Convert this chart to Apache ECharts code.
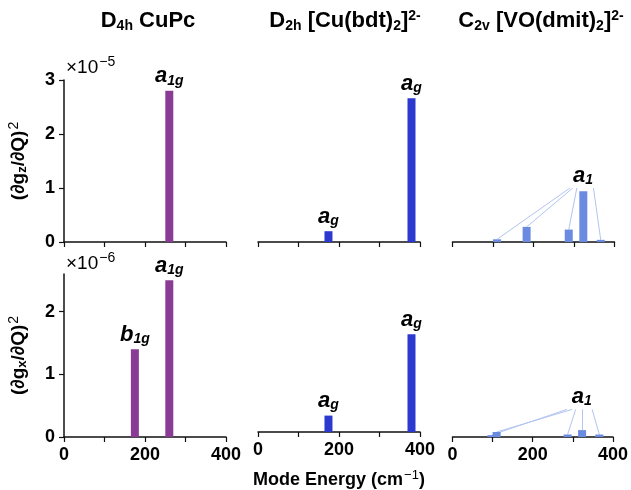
<!DOCTYPE html>
<html><head><meta charset="utf-8">
<script src="https://cdn.jsdelivr.net/npm/echarts@6/dist/echarts.min.js"></script>
<style>html,body{margin:0;padding:0;background:#fff}#c{width:631px;height:490px}</style>
</head><body><div id="c"></div>
<script>
// ---- axes / ticks ----
const energyTicks = [0, 100, 200, 300, 400];
const energyLabels = [0, 200, 400];
const gzTicks = [0, 1, 2, 3];
const gxTicks = [0, 1, 2];
const gzMax = 3;
const gxMax = 2.6;

// ---- D4h CuPc ----
const cupcEnergyZ = [260];
const cupcGz = [2.80];
const cupcLabelsZ = [['a', '1g']];
const cupcEnergyX = [175, 260];
const cupcGx = [1.40, 2.50];
const cupcLabelsX = [['b', '1g'], ['a', '1g']];

// ---- D2h [Cu(bdt)2]2- ----
const bdtEnergy = [174, 379];
const bdtGz = [0.20, 2.66];
const bdtGx = [0.27, 1.61];
const bdtLabels = [['a', 'g'], ['a', 'g']];

// ---- C2v [VO(dmit)2]2- ----
const dmitEnergyZ = [110, 183, 287, 323, 366];
const dmitGz = [0.05, 0.28, 0.23, 0.94, 0.04];
const dmitEnergyX = [97, 110, 287, 323, 366];
const dmitGx = [0.03, 0.08, 0.04, 0.11, 0.04];
const dmitGroupLabel = ['a', '1'];
const dmitLabelAnchorZ = [322, 1.0];
const dmitLabelAnchorX = [322, 0.44];
// leader lines: start point near label (data units) -> index of bar
const dmitLeaderStartZ = [[290, 1.0], [297, 1.0], [307, 1.0], [348, 1.0]];
const dmitLeaderBarZ = [0, 1, 2, 4];
const dmitLeaderStartX = [[285, 0.44], [298, 0.44], [307, 0.44], [323, 0.44], [348, 0.44]];
const dmitLeaderBarX = [0, 1, 2, 3, 4];

const PURPLE = '#8a3c95';
const BLUE = '#2c39cf';
const LIGHT = '#6b8be2';
const LEADER = '#b2c4f0';
const FONT = 'Liberation Sans';

const chart = echarts.init(document.getElementById('c'), null, {renderer: 'canvas'});

const gridLeft = [64, 258, 452.5];
const gridTop = [80, 274];
const gridH = [162, 163];
const gridW = 162;

const grids = [], xAxes = [], yAxes = [];
for (let r = 0; r < 2; r++) {
  for (let c = 0; c < 3; c++) {
    grids.push({left: gridLeft[c], top: gridTop[r], width: gridW, height: gridH[r]});
    const idx = grids.length - 1;
    xAxes.push({
      type: 'value', gridIndex: idx, min: 0, max: 400, interval: 100,
      axisLine: {show: true, onZero: false, lineStyle: {color: '#111', width: 1.5}},
      axisTick: {show: true, inside: false, length: 5, customValues: energyTicks, lineStyle: {color: '#111', width: 1.2}},
      axisLabel: {show: r === 1, customValues: energyLabels, margin: 9, color: '#000', fontFamily: FONT, fontWeight: 'bold', fontSize: 18},
      splitLine: {show: false},
      name: (r === 1 && c === 1) ? '{m|Mode Energy (cm}{p|−1}{m|)}' : '',
      nameLocation: 'middle', nameGap: 37,
      nameTextStyle: {rich: {
        m: {fontFamily: FONT, fontWeight: 'bold', fontSize: 18, color: '#000'},
        p: {fontFamily: FONT, fontWeight: 'normal', fontSize: 13, color: '#000', padding: [0, 0, 9, 1]}
      }}
    });
    const ticks = r === 0 ? gzTicks : gxTicks;
    yAxes.push({
      type: 'value', gridIndex: idx, min: 0, max: r === 0 ? gzMax : gxMax, interval: 1,
      show: c === 0,
      axisLine: {show: true, lineStyle: {color: '#111', width: 1.5}},
      axisTick: {show: true, length: 5, customValues: ticks, lineStyle: {color: '#111', width: 1.2}},
      axisLabel: {customValues: ticks, margin: 9, color: '#000', fontFamily: FONT, fontWeight: 'bold', fontSize: 18},
      splitLine: {show: false},
      name: c === 0 ? (r === 0 ? '{m|(∂g}{s|z}{m|/∂Q)}{p|2}' : '{m|(∂g}{s|x}{m|/∂Q)}{p|2}') : '',
      nameLocation: 'middle', nameRotate: 90, nameGap: 33,
      nameTextStyle: {rich: {
        m: {fontFamily: FONT, fontWeight: 'bold', fontSize: 19, color: '#000'},
        s: {fontFamily: FONT, fontWeight: 'bold', fontSize: 13, color: '#000', padding: [6, 0, 0, 0]},
        p: {fontFamily: FONT, fontWeight: 'normal', fontSize: 14, color: '#000', padding: [0, 0, 10, 1]}
      }}
    });
  }
}

const labelRich = {
  a: {fontFamily: FONT, fontWeight: 'bold', fontStyle: 'italic', fontSize: 22, color: '#000'},
  s: {fontFamily: FONT, fontWeight: 'bold', fontStyle: 'italic', fontSize: 14, color: '#000', padding: [9, 0, 0, 0]}
};
const lbl = (p) => '{a|' + p[0] + '}{s|' + p[1] + '}';

function barSeries(idx, xs, ys, color, labels) {
  return {
    type: 'bar', xAxisIndex: idx, yAxisIndex: idx, barWidth: 8,
    itemStyle: {color: color},
    label: {show: false, position: 'top', distance: 3, rich: labelRich},
    data: xs.map((x, i) => {
      const d = {value: [x, ys[i]]};
      if (labels && labels[i]) d.label = {show: true, formatter: lbl(labels[i])};
      return d;
    })
  };
}

function groupLabel(idx, anchor, text) {
  return {
    type: 'scatter', xAxisIndex: idx, yAxisIndex: idx, symbolSize: 0, silent: true,
    itemStyle: {opacity: 1, color: '#000'},
    label: {show: true, position: 'top', distance: 1, formatter: lbl(text), rich: labelRich, opacity: 1},
    data: [anchor]
  };
}

function leaders(idx, starts, barIdx, xs, ys) {
  return {
    type: 'lines', coordinateSystem: 'cartesian2d', xAxisIndex: idx, yAxisIndex: idx, silent: true,
    lineStyle: {color: LEADER, width: 1, opacity: 1},
    data: starts.map((s, i) => ({coords: [s, [xs[barIdx[i]], ys[barIdx[i]]]]}))
  };
}

const series = [
  barSeries(0, cupcEnergyZ, cupcGz, PURPLE, cupcLabelsZ),
  barSeries(1, bdtEnergy, bdtGz, BLUE, bdtLabels),
  barSeries(2, dmitEnergyZ, dmitGz, LIGHT, null),
  leaders(2, dmitLeaderStartZ, dmitLeaderBarZ, dmitEnergyZ, dmitGz),
  groupLabel(2, dmitLabelAnchorZ, dmitGroupLabel),
  barSeries(3, cupcEnergyX, cupcGx, PURPLE, cupcLabelsX),
  barSeries(4, bdtEnergy, bdtGx, BLUE, bdtLabels),
  barSeries(5, dmitEnergyX, dmitGx, LIGHT, null),
  leaders(5, dmitLeaderStartX, dmitLeaderBarX, dmitEnergyX, dmitGx),
  groupLabel(5, dmitLabelAnchorX, dmitGroupLabel)
];

const titleRich = {
  m: {fontFamily: FONT, fontWeight: 'bold', fontSize: 22, color: '#000'},
  s: {fontFamily: FONT, fontWeight: 'bold', fontSize: 14, color: '#000', padding: [10, 0, 0, 0]},
  p: {fontFamily: FONT, fontWeight: 'bold', fontSize: 14, color: '#000', padding: [0, 0, 10, 0]}
};
const titles = [
  '{m|D}{s|4h}{m| CuPc}',
  '{m|D}{s|2h}{m| [Cu(bdt)}{s|2}{m|]}{p|2-}',
  '{m|C}{s|2v}{m| [VO(dmit)}{s|2}{m|]}{p|2-}'
];
const titleCenters = [143, 340, 536];

const expRich = {
  m: {fontFamily: FONT, fontSize: 19, color: '#000'},
  p: {fontFamily: FONT, fontSize: 14, color: '#000', padding: [0, 0, 12, 1]}
};

chart.setOption({
  animation: false,
  backgroundColor: '#fff',
  title: titles.map((t, i) => ({
    text: t, left: titleCenters[i], top: 4, textAlign: 'center',
    textStyle: {rich: titleRich}
  })),
  grid: grids,
  xAxis: xAxes,
  yAxis: yAxes,
  series: series,
  graphic: [
    {type: 'text', left: 66, top: 55, style: {text: '{m|×10}{p|−5}', rich: expRich}},
    {type: 'text', left: 66, top: 251, style: {text: '{m|×10}{p|−6}', rich: expRich}}
  ]
});
</script></body></html>
